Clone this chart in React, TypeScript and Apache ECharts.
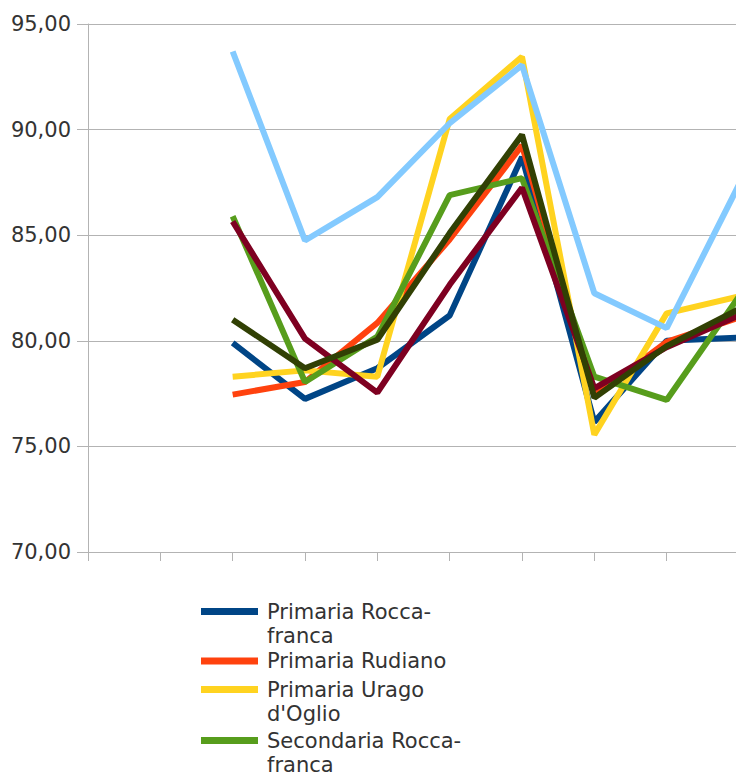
import React, { useEffect, useRef } from 'react';
import * as echarts from 'echarts';

const categories = ['1', '2', '3', '4', '5', '6', '7', '8', '9', '10'];

const seriesNames = [
  'Primaria Roccafranca',
  'Primaria Rudiano',
  "Primaria Urago d'Oglio",
  'Secondaria Roccafranca',
  'Secondaria Rudiano',
  "Secondaria Urago d'Oglio",
  'Istituto Comprensivo',
];

const legendLabels = [
  'Primaria Rocca-\nfranca',
  'Primaria Rudiano',
  "Primaria Urago\nd'Oglio",
  'Secondaria Rocca-\nfranca',
];

const primariaRoccafranca = [null, null, 79.9, 77.25, 78.7, 81.2, 88.7, 76.15, 80.0, 80.15];
const primariaRudiano = [null, null, 77.45, 78.05, 80.85, 84.8, 89.25, 77.4, 79.95, 81.1];
const primariaUrago = [null, null, 78.3, 78.6, 78.3, 90.5, 93.45, 75.55, 81.3, 82.1];
const secondariaRoccafranca = [null, null, 85.9, 78.05, 80.2, 86.9, 87.7, 78.3, 77.2, 82.1];
const secondariaRudiano = [null, null, 85.65, 80.1, 77.55, 82.65, 87.25, 77.75, 79.7, 81.2];
const secondariaUrago = [null, null, 93.7, 84.75, 86.8, 90.3, 93.05, 82.25, 80.6, 87.4];
const istituto = [null, null, 81.0, 78.7, 80.05, 85.1, 89.75, 77.3, 79.75, 81.5];

const seriesValues = [
  primariaRoccafranca,
  primariaRudiano,
  primariaUrago,
  secondariaRoccafranca,
  secondariaRudiano,
  secondariaUrago,
  istituto,
];

const colors = ['#004586', '#ff420e', '#ffd320', '#579d1c', '#7e0021', '#83caff', '#314004'];

const yMin = 70;
const yMax = 95;
const yStep = 5;

export default function App() {
  const ref = useRef<HTMLDivElement>(null);

  useEffect(() => {
    if (!ref.current) return;
    const chart = echarts.init(ref.current, null, { renderer: 'svg' });
    const gray = '#b3b3b3';
    const font = 'DejaVu Sans';

    // legend layout: icon bar aligned with the first text line
    const iconW = 57;
    const iconH = 31;
    const lineH = 24;
    const itemStep = 3; // gap between legend entries
    const firstLineCenter = 610;
    const topBarIcon = 'path://M0,0H57V7H0Z M0,31L0,31';
    const midBarIcon = 'path://M0,12H57V19H0Z M0,0L0,0 M0,31L0,31';

    let lineCenter = firstLineCenter;
    const legends = legendLabels.map((lbl, i) => {
      const nLines = lbl.split('\n').length;
      const twoLine = nLines > 1;
      // local origin of the item (top of icon box)
      const origin = twoLine ? lineCenter - 3.5 : lineCenter - iconH / 2;
      const textTop = iconH / 2 - (nLines * lineH) / 2 + (lineH - 21) / 2;
      const boxTop = Math.min(0, textTop);
      const legend = {
        orient: 'vertical',
        left: 201,
        top: origin + boxTop,
        height: 200,
        padding: 0,
        itemWidth: iconW,
        itemHeight: iconH,
        symbolKeepAspect: false,
        itemStyle: { borderWidth: 0 },
        textStyle: { fontFamily: font, fontSize: 21, color: '#333', lineHeight: lineH, padding: [0, 0, 0, 4] },
        data: [{ name: seriesNames[i], icon: twoLine ? topBarIcon : midBarIcon }],
        formatter: () => lbl,
      };
      lineCenter += nLines * lineH + itemStep;
      return legend;
    });

    chart.setOption({
      animation: false,
      color: colors,
      grid: { left: 88, top: 24, right: -3, bottom: 221, outerBoundsMode: 'none' },
      xAxis: {
        type: 'category',
        data: categories,
        boundaryGap: false,
        axisLine: { show: true, lineStyle: { color: gray, width: 1 } },
        axisTick: { show: true, length: 9, interval: 0, lineStyle: { color: gray } },
        axisLabel: { show: false },
        splitLine: { show: false },
      },
      yAxis: {
        type: 'value',
        min: yMin,
        max: yMax,
        interval: yStep,
        axisLine: { show: true, lineStyle: { color: gray, width: 1 } },
        axisTick: { show: true, length: 11, lineStyle: { color: gray } },
        splitLine: { show: true, lineStyle: { color: gray, width: 1 } },
        axisLabel: {
          margin: 17,
          color: '#333',
          fontFamily: font,
          fontSize: 21,
          formatter: (v: number) => v.toFixed(2).replace('.', ','),
        },
      },
      legend: legends,
      series: seriesNames.map((name, i) => ({
        name,
        type: 'line',
        data: seriesValues[i],
        showSymbol: false,
        symbol: 'none',
        connectNulls: false,
        lineStyle: { width: 6, color: colors[i] },
        itemStyle: { color: colors[i] },
        z: 2 + i,
      })),
    });
    return () => chart.dispose();
  }, []);

  return (
    <div
      ref={ref}
      style={{ position: 'fixed', left: 0, top: 0, width: 736, height: 773, background: '#fff' }}
    />
  );
}
